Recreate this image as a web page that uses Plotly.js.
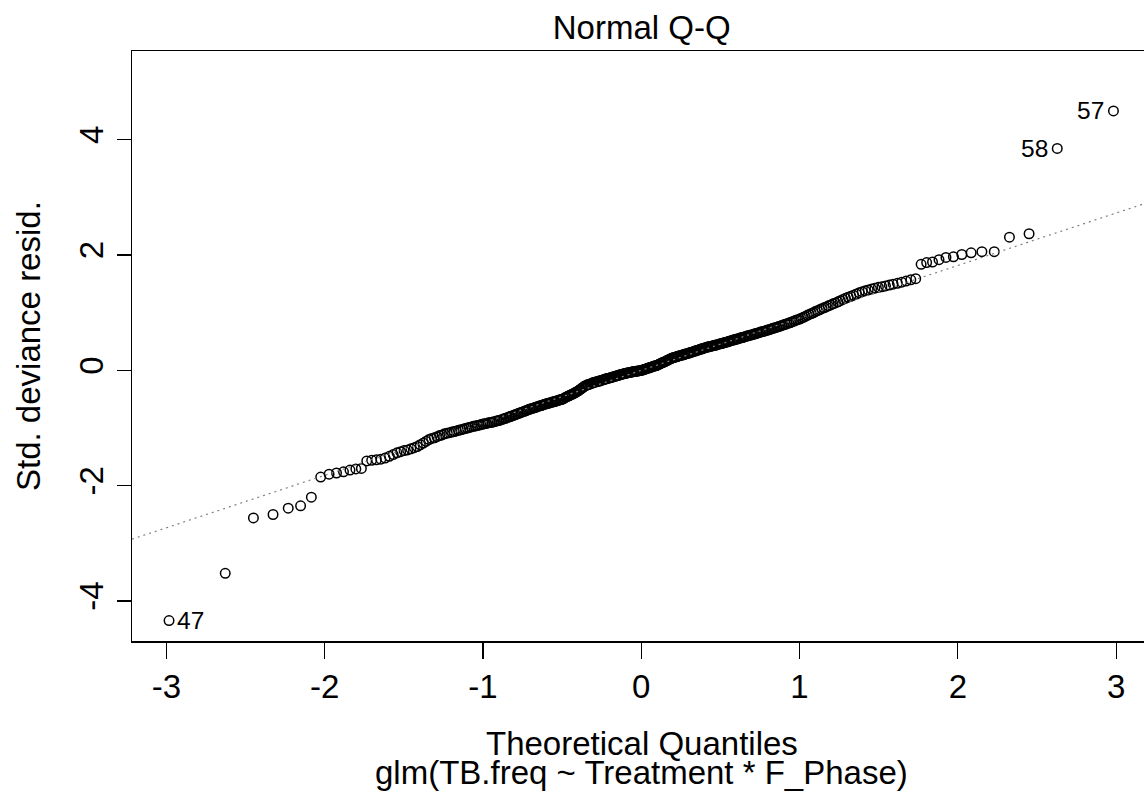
<!DOCTYPE html>
<html><head><meta charset="utf-8">
<script src="https://cdn.plot.ly/plotly-3.0.1.min.js"></script>
<style>html,body{margin:0;padding:0;background:#fff;}#chart{width:1144px;height:798px;}</style>
</head><body><div id="chart"></div>
<script>
// Theoretical quantiles (x) read for each of the 350 residuals, in sorted order
const theoQuantiles = [
-2.983,-2.628,-2.450,-2.326,-2.230,-2.152,-2.084,-2.025,-1.972,-1.925,
-1.881,-1.840,-1.803,-1.768,-1.734,-1.703,-1.673,-1.645,-1.618,-1.591,
-1.567,-1.543,-1.520,-1.498,-1.476,-1.455,-1.434,-1.415,-1.396,-1.377,
-1.359,-1.341,-1.324,-1.307,-1.290,-1.274,-1.258,-1.243,-1.227,-1.211,
-1.197,-1.182,-1.168,-1.154,-1.140,-1.126,-1.113,-1.099,-1.087,-1.074,
-1.061,-1.049,-1.036,-1.024,-1.012,-1.000,-0.989,-0.977,-0.966,-0.954,
-0.943,-0.932,-0.921,-0.910,-0.899,-0.889,-0.878,-0.868,-0.857,-0.847,
-0.837,-0.827,-0.817,-0.807,-0.797,-0.788,-0.778,-0.769,-0.759,-0.750,
-0.739,-0.730,-0.721,-0.712,-0.703,-0.694,-0.685,-0.676,-0.666,-0.657,
-0.648,-0.640,-0.631,-0.623,-0.614,-0.606,-0.597,-0.589,-0.580,-0.572,
-0.562,-0.554,-0.546,-0.538,-0.530,-0.522,-0.514,-0.506,-0.498,-0.490,
-0.480,-0.472,-0.465,-0.457,-0.449,-0.442,-0.434,-0.426,-0.419,-0.411,
-0.401,-0.393,-0.386,-0.378,-0.371,-0.363,-0.356,-0.348,-0.341,-0.334,
-0.324,-0.317,-0.309,-0.302,-0.295,-0.287,-0.280,-0.273,-0.266,-0.258,
-0.250,-0.243,-0.235,-0.228,-0.221,-0.214,-0.207,-0.199,-0.192,-0.185,
-0.176,-0.169,-0.162,-0.155,-0.148,-0.140,-0.133,-0.126,-0.119,-0.112,
-0.104,-0.097,-0.090,-0.082,-0.075,-0.068,-0.061,-0.054,-0.047,-0.039,
-0.032,-0.025,-0.018,-0.011,-0.004,
0.004,0.011,0.018,0.025,0.032,0.039,0.047,0.054,0.061,0.068,
0.075,0.082,0.090,0.097,0.104,0.112,0.119,0.126,0.133,0.140,
0.148,0.155,0.162,0.169,0.176,0.185,0.192,0.199,0.207,0.214,
0.221,0.228,0.235,0.243,0.250,0.258,0.266,0.273,0.280,0.287,
0.295,0.302,0.309,0.317,0.324,0.334,0.341,0.348,0.356,0.363,
0.371,0.378,0.386,0.393,0.401,0.411,0.419,0.426,0.434,0.442,
0.449,0.457,0.465,0.472,0.480,0.490,0.498,0.506,0.514,0.522,
0.530,0.538,0.546,0.554,0.562,0.572,0.580,0.589,0.597,0.606,
0.614,0.623,0.631,0.640,0.648,0.657,0.666,0.676,0.685,0.694,
0.703,0.712,0.721,0.730,0.739,0.750,0.759,0.769,0.778,0.788,
0.797,0.807,0.817,0.827,0.837,0.847,0.857,0.868,0.878,0.889,
0.899,0.910,0.921,0.932,0.943,0.954,0.966,0.977,0.989,1.000,
1.012,1.024,1.036,1.049,1.061,1.074,1.087,1.099,1.113,1.126,
1.140,1.154,1.168,1.182,1.197,1.211,1.227,1.243,1.258,1.274,
1.290,1.307,1.324,1.341,1.359,1.377,1.396,1.415,1.434,1.455,
1.476,1.498,1.520,1.543,1.567,1.591,1.618,1.645,1.673,1.703,
1.734,1.768,1.803,1.840,1.881,1.925,1.972,2.025,2.084,2.152,
2.230,2.326,2.450,2.628,2.983
];
// Standardized deviance residuals, sorted (y)
const stdDevResid = [
-4.34,-3.52,-2.56,-2.50,-2.39,-2.35,-2.20,-1.85,-1.80,-1.78,
-1.76,-1.73,-1.71,-1.70,-1.57,-1.56,-1.55,-1.54,-1.52,-1.49,
-1.46,-1.43,-1.41,-1.39,-1.38,-1.36,-1.34,-1.32,-1.29,-1.26,
-1.23,-1.20,-1.18,-1.17,-1.15,-1.13,-1.12,-1.10,-1.09,-1.08,
-1.07,-1.06,-1.05,-1.04,-1.03,-1.02,-1.01,-1.00,-0.99,-0.98,
-0.97,-0.965,-0.955,-0.95,-0.94,-0.93,-0.925,-0.92,-0.91,-0.905,
-0.90,-0.89,-0.885,-0.875,-0.87,-0.86,-0.85,-0.84,-0.83,-0.82,
-0.81,-0.80,-0.79,-0.78,-0.77,-0.76,-0.75,-0.74,-0.73,-0.72,
-0.71,-0.70,-0.69,-0.68,-0.67,-0.665,-0.655,-0.65,-0.64,-0.63,
-0.62,-0.615,-0.61,-0.60,-0.59,-0.585,-0.578,-0.57,-0.565,-0.56,
-0.55,-0.545,-0.54,-0.53,-0.525,-0.52,-0.51,-0.505,-0.50,-0.49,
-0.47,-0.46,-0.45,-0.44,-0.43,-0.42,-0.41,-0.40,-0.39,-0.375,
-0.36,-0.345,-0.33,-0.315,-0.30,-0.285,-0.27,-0.26,-0.25,-0.245,
-0.235,-0.23,-0.22,-0.21,-0.205,-0.20,-0.195,-0.19,-0.185,-0.18,
-0.17,-0.165,-0.16,-0.15,-0.145,-0.14,-0.135,-0.13,-0.125,-0.12,
-0.11,-0.105,-0.10,-0.095,-0.09,-0.08,-0.075,-0.07,-0.065,-0.06,
-0.055,-0.05,-0.045,-0.04,-0.035,-0.035,-0.03,-0.025,-0.02,-0.02,
-0.015,-0.01,-0.01,-0.005,0.00,
0.00,0.01,0.015,0.02,0.03,0.035,0.04,0.05,0.055,0.06,
0.07,0.075,0.08,0.085,0.095,0.105,0.115,0.125,0.135,0.14,
0.15,0.16,0.17,0.18,0.19,0.20,0.21,0.22,0.225,0.23,
0.235,0.24,0.25,0.255,0.26,0.265,0.27,0.28,0.285,0.29,
0.295,0.30,0.31,0.315,0.32,0.33,0.335,0.345,0.35,0.355,
0.365,0.37,0.375,0.385,0.39,0.40,0.405,0.41,0.415,0.42,
0.425,0.43,0.435,0.44,0.445,0.455,0.46,0.465,0.47,0.48,
0.485,0.49,0.495,0.505,0.51,0.52,0.525,0.53,0.54,0.545,
0.55,0.56,0.565,0.57,0.58,0.585,0.595,0.60,0.61,0.615,
0.62,0.63,0.635,0.645,0.65,0.66,0.67,0.675,0.68,0.69,
0.70,0.705,0.715,0.725,0.735,0.74,0.75,0.76,0.77,0.78,
0.79,0.80,0.81,0.82,0.83,0.845,0.855,0.87,0.88,0.89,
0.905,0.92,0.935,0.955,0.97,0.985,1.00,1.02,1.035,1.05,
1.07,1.085,1.10,1.12,1.135,1.155,1.17,1.19,1.21,1.23,
1.25,1.27,1.285,1.305,1.325,1.345,1.365,1.38,1.395,1.41,
1.425,1.44,1.45,1.465,1.48,1.495,1.51,1.53,1.55,1.57,
1.59,1.84,1.87,1.88,1.92,1.96,1.97,2.01,2.04,2.06,
2.06,2.31,2.37,3.85,4.50
];
// Labelled observations (id text, index in the sorted arrays)
const idLabels = ['47', '58', '57'];
const idIndex = [0, 348, 349];
// Reference line (qqline)
const qqIntercept = 0.0;
const qqSlope = 0.91;
// Axis ticks
const xTickVals = [-3, -2, -1, 0, 1, 2, 3];
const xTickText = ['-3', '-2', '-1', '0', '1', '2', '3'];
const yTickVals = [-4, -2, 0, 2, 4];
const yTickText = ['-4', '-2', '0', '2', '4'];
const chartTitle = 'Normal Q-Q';
const xLabel = 'Theoretical Quantiles';
const subCaption = 'glm(TB.freq ~ Treatment * F_Phase)';
const yLabel = 'Std. deviance resid.';

const FONT = 'Liberation Sans, Arial, Helvetica, sans-serif';
const FS = 33;
const W = 1144, H = 798;
const M = {l: 132, r: 0, t: 51, b: 157};
const xRange = [-3.217, 3.176];
const yRange = [-4.694, 5.540];
const plotCenterPx = 641.7; // centre of the (partly cropped) plotting region

const points = {
  type: 'scatter', mode: 'markers',
  x: theoQuantiles, y: stdDevResid,
  marker: {symbol: 'circle-open', size: 9.5, color: '#000', line: {width: 1.5, color: '#000'}},
  showlegend: false, hoverinfo: 'x+y'
};
const lineX = [xRange[0], xRange[1]];
const qqLine = {
  type: 'scatter', mode: 'lines',
  x: lineX, y: lineX.map(v => qqIntercept + qqSlope * v),
  line: {color: '#808080', width: 1.2, dash: '2px,4px'},
  showlegend: false, hoverinfo: 'skip'
};

const annotations = idIndex.map((idx, k) => {
  const left = theoQuantiles[idx] < 0;
  return {
    x: theoQuantiles[idx], y: stdDevResid[idx], xref: 'x', yref: 'y',
    text: idLabels[k], showarrow: false,
    xanchor: left ? 'left' : 'right', yanchor: 'middle',
    xshift: left ? 6 : -7,
    font: {family: FONT, size: 24.5, color: '#000'}
  };
});
const paperX = (plotCenterPx - M.l) / (W - M.l - M.r);
annotations.push({
  text: xLabel, xref: 'paper', yref: 'paper', x: paperX, y: 0,
  xanchor: 'center', yanchor: 'middle', yshift: -102, showarrow: false,
  font: {family: FONT, size: FS, color: '#000'}
});
annotations.push({
  text: subCaption, xref: 'paper', yref: 'paper', x: paperX, y: 0,
  xanchor: 'center', yanchor: 'middle', yshift: -131, showarrow: false,
  font: {family: FONT, size: FS, color: '#000'}
});
annotations.push({
  text: yLabel, xref: 'paper', yref: 'paper', x: 0, y: 0.5,
  xanchor: 'center', yanchor: 'middle', xshift: -(M.l - 28), textangle: -90, showarrow: false,
  font: {family: FONT, size: FS, color: '#000'}
});

const layout = {
  width: W, height: H,
  margin: {l: M.l, r: M.r, t: M.t, b: M.b, pad: 0},
  paper_bgcolor: '#fff', plot_bgcolor: '#fff',
  font: {family: FONT, size: FS, color: '#000'},
  title: {
    text: chartTitle, font: {family: FONT, size: FS, color: '#000'},
    xref: 'container', x: plotCenterPx / W, xanchor: 'center',
    yref: 'container', y: 1 - 27 / H, yanchor: 'middle'
  },
  xaxis: {
    range: xRange, tickmode: 'array', tickvals: xTickVals, ticktext: xTickText,
    ticks: 'outside', ticklen: 16, tickwidth: 1.2, tickcolor: '#000',
    showline: true, mirror: true, linecolor: '#000', linewidth: 1.5,
    showgrid: false, zeroline: false, fixedrange: true,
    tickfont: {family: FONT, size: FS, color: '#000'}
  },
  yaxis: {
    range: yRange, tickmode: 'array', tickvals: yTickVals, ticktext: yTickText,
    ticks: 'outside', ticklen: 14, tickwidth: 1.2, tickcolor: '#000', tickangle: -90,
    showline: true, mirror: false, linecolor: '#000', linewidth: 1.5,
    showgrid: false, zeroline: false, fixedrange: true,
    tickfont: {family: FONT, size: FS, color: '#000'}
  },
  annotations: annotations,
  showlegend: false
};

Plotly.newPlot('chart', [points, qqLine], layout, {displayModeBar: false, staticPlot: true});
</script>
</body></html>
